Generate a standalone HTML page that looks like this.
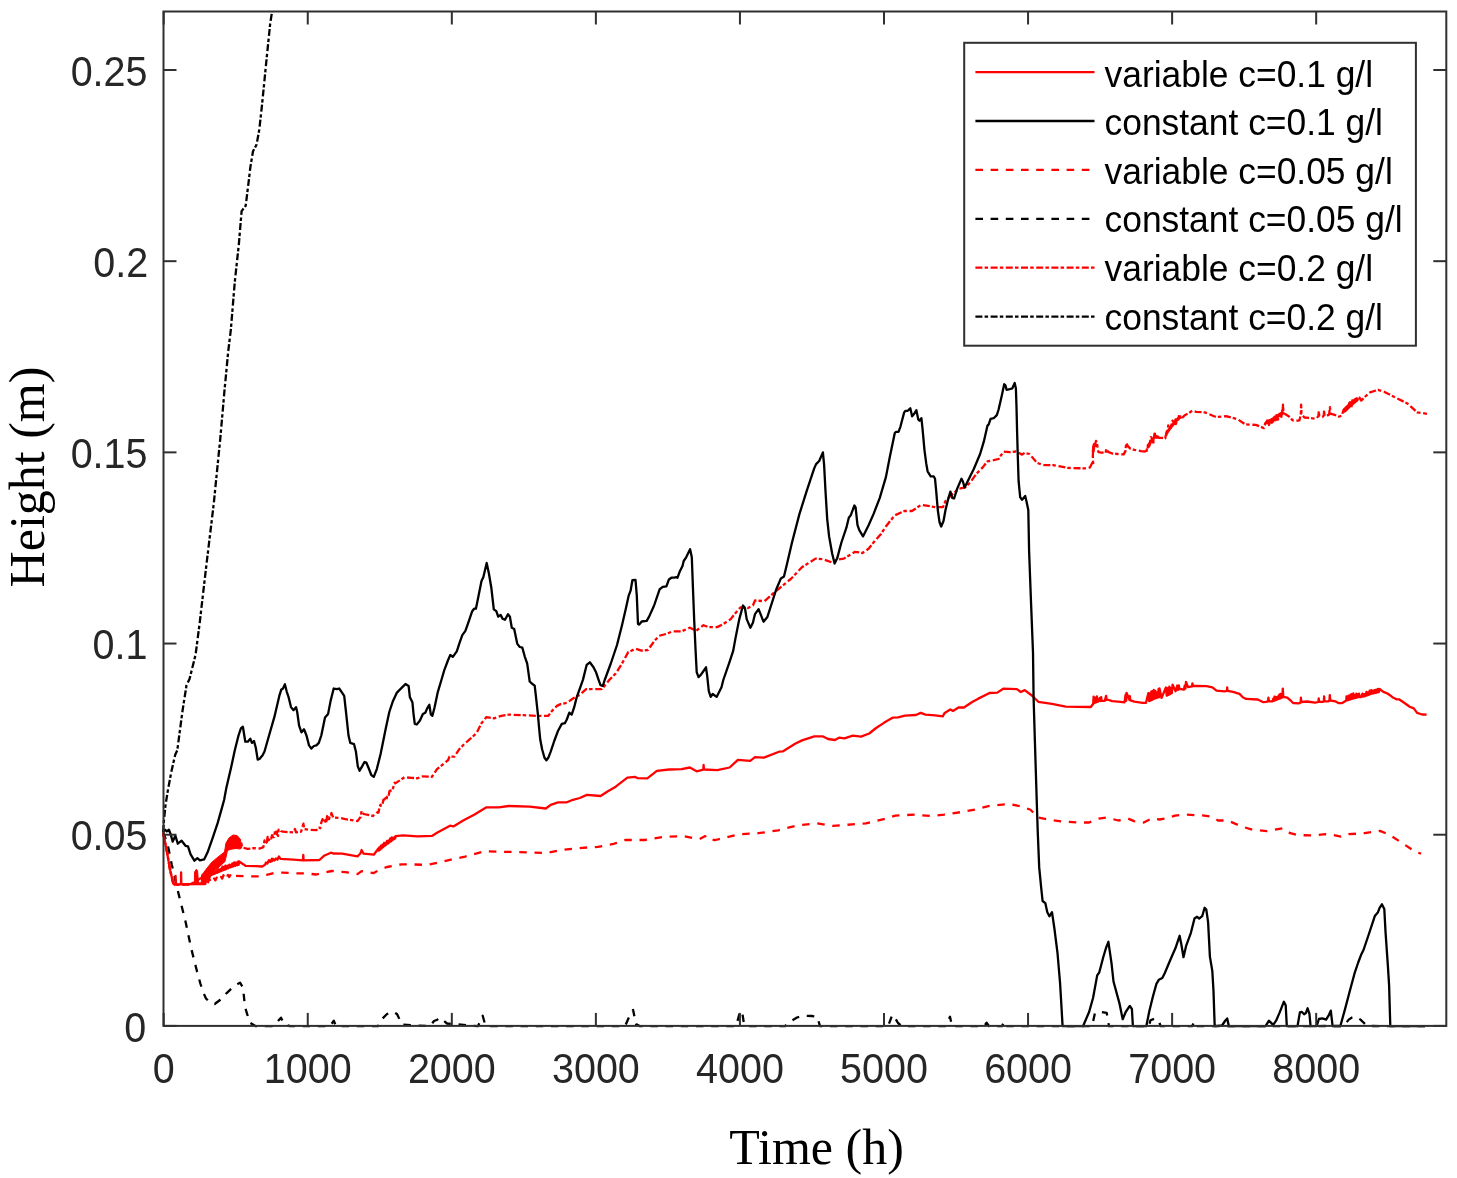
<!DOCTYPE html>
<html><head><meta charset="utf-8"><style>
html,body{margin:0;padding:0;background:#fff;}
body{width:1457px;height:1178px;overflow:hidden;}
svg{display:block;will-change:transform;}
.tk{font-family:"Liberation Sans",sans-serif;font-size:39.5px;fill:#262626;}
.lg{font-family:"Liberation Sans",sans-serif;font-size:35.4px;fill:#000;}
.lab{font-family:"Liberation Serif",serif;font-size:50px;fill:#000;}
</style></head><body>
<svg width="1457" height="1178" viewBox="0 0 1457 1178">
<path d="M163.2,832.0 L167.8,845.0 L171.7,864.4 L177.6,889.8 L185.4,921.0 L191.2,948.4 L197.1,971.8 L200.5,984.0 L203.5,993.0 L206.0,998.5 L209.5,1002.0 L214.7,1004.0 L220.0,1000.0 L226.4,993.3 L233.0,987.0 L240.0,982.6 L243.0,987.5 L245.0,1007.0 L249.8,1022.6 L255.7,1026.2 L272.0,1026.2 L278.0,1021.0 L281.0,1017.7 L284.0,1024.0 L290.0,1026.2 L330.0,1026.2 L333.8,1020.7 L336.0,1026.2 L378.0,1026.2 L382.0,1019.0 L387.0,1014.0 L392.4,1011.5 L397.0,1014.0 L402.0,1024.6 L430.0,1026.2 L434.0,1021.0 L437.3,1019.7 L439.8,1017.7 L444.0,1021.0 L447.0,1023.5 L478.0,1026.2 L482.7,1015.8 L485.0,1024.0 L487.0,1026.2 L625.0,1026.2 L630.0,1015.0 L633.1,1009.9 L636.0,1024.0 L640.0,1026.2 L736.0,1026.2 L740.0,1012.0 L742.0,1010.9 L744.0,1024.0 L748.0,1026.2 L785.0,1026.2 L790.0,1021.6 L797.0,1017.5 L803.5,1015.8 L812.0,1016.0 L817.2,1016.7 L820.0,1026.2 L888.0,1026.2 L892.3,1014.8 L895.0,1018.0 L898.0,1023.0 L902.0,1026.2 L945.0,1026.2 L950.0,1016.7 L952.0,1026.2 L984.0,1026.2 L986.6,1022.6 L989.0,1026.2 L1002.0,1026.2 L1004.2,1021.6 L1006.0,1026.2 L1092.0,1026.2 L1095.0,1012.9 L1101.0,1012.0 L1106.7,1012.9 L1109.0,1026.2 L1149.0,1026.2 L1150.5,1020.2 L1155.2,1018.4 L1158.8,1020.8 L1160.6,1026.0 L1192.0,1026.2 L1194.5,1021.4 L1196.5,1026.2 L1343.9,1026.0 L1348.7,1019.6 L1352.0,1017.5 L1355.8,1016.6 L1360.5,1019.6 L1364.0,1023.0 L1367.7,1026.0 L1425.0,1026.2" fill="none" stroke="#000" stroke-width="2.3" stroke-linejoin="round" stroke-linecap="butt" stroke-dasharray="7.5,7.7"/>
<path d="M163.2,832.0 L163.8,822.0 L165.5,805.0 L168.1,789.0 L171.5,771.0 L175.3,754.4 L177.3,750.3 L182.4,711.6 L186.5,685.2 L189.5,679.1 L195.6,654.6 L199.8,622.0 L205.8,570.0 L213.7,504.2 L220.3,438.4 L224.2,393.7 L228.2,351.6 L230.8,330.1 L234.8,281.7 L238.9,243.7 L241.6,211.1 L245.7,205.7 L248.4,183.9 L250.3,167.6 L253.0,151.3 L256.6,144.5 L259.3,129.6 L262.0,105.1 L264.7,77.9 L267.4,50.8 L270.2,23.6 L272.1,11.4" fill="none" stroke="#000" stroke-width="2.3" stroke-linejoin="round" stroke-linecap="butt" stroke-dasharray="7,2,3.5,2.7"/>
<path d="M163.2,833.0 L166.8,850.9 L170.2,870.5 L173.2,883.2 L174.9,884.8 L177.0,884.5 L204.0,883.5 L204.6,881.0 L205.8,883.0 L207.0,880.2 L208.2,882.2 L209.4,878.9 L210.6,881.5 L211.2,881.3 L211.8,878.9 L213.0,880.9 L214.2,878.5 L215.4,880.4 L216.6,877.6 L217.8,879.9 L218.0,879.9 L218.6,877.9 L219.8,879.4 L221.0,877.0 L222.2,878.6 L223.4,875.3 L224.6,877.9 L224.9,877.8 L225.5,875.4 L226.7,877.5 L227.9,874.9 L229.1,877.0 L230.3,875.2 L231.5,876.5 L232.7,874.2 L233.9,876.1 L235.2,875.8 L247.6,876.4 L259.1,876.4 L266.7,874.9 L274.4,873.0 L282.0,872.6 L295.0,873.3 L304.9,873.3 L316.4,874.5 L324.0,872.6 L331.7,871.0 L339.3,871.8 L345.3,872.1 L357.5,874.1 L361.6,871.1 L373.8,873.1 L378.9,870.0 L387.0,867.0 L401.3,864.4 L411.5,864.4 L426.8,864.9 L437.0,862.9 L450.0,859.8 L465.1,856.6 L484.7,851.2 L498.3,851.7 L527.6,852.3 L545.2,853.1 L562.8,849.8 L582.3,847.8 L597.9,846.9 L613.6,843.9 L625.3,840.0 L644.8,840.0 L664.3,836.7 L683.9,836.1 L693.6,838.1 L699.5,839.1 L705.3,836.1 L708.0,839.5 L715.6,840.0 L739.1,834.2 L758.6,833.2 L778.1,830.3 L797.6,825.4 L817.2,823.4 L832.8,825.8 L852.3,824.4 L866.0,823.4 L885.5,818.6 L895.3,815.6 L914.8,814.6 L930.4,816.0 L944.1,814.6 L963.6,811.7 L975.0,809.5 L989.5,805.9 L1009.1,803.9 L1022.7,806.8 L1030.5,809.8 L1038.3,817.6 L1048.1,819.5 L1061.8,821.5 L1077.4,822.5 L1089.1,822.5 L1098.9,818.6 L1106.7,817.6 L1118.4,820.5 L1128.2,818.6 L1134.0,821.1 L1143.8,822.5 L1151.6,818.6 L1159.4,819.5 L1165.3,818.6 L1175.0,815.6 L1184.8,814.6 L1202.4,815.4 L1212.1,816.6 L1218.0,820.5 L1227.8,820.5 L1241.4,826.4 L1251.2,829.3 L1259.0,830.3 L1266.8,831.2 L1282.4,828.3 L1290.3,833.2 L1298.1,835.1 L1313.7,835.5 L1325.4,834.2 L1333.2,835.1 L1341.0,836.7 L1348.8,834.2 L1364.5,833.2 L1380.1,830.9 L1389.9,835.1 L1403.5,843.9 L1415.2,851.7 L1421.1,853.7" fill="none" stroke="#ff0000" stroke-width="2.3" stroke-linejoin="round" stroke-linecap="butt" stroke-dasharray="7.5,7.7"/>
<path d="M163.2,833.0 L166.8,850.9 L170.2,870.5 L173.2,883.2 L174.9,884.8 L190.0,884.5 L204.1,876.4 L210.9,867.9 L219.4,859.4 L225.4,852.6 L227.1,844.1 L232.2,838.2 L236.4,836.5 L240.6,840.7 L242.3,847.4 L247.6,848.9 L253.4,848.1 L259.9,848.5 L262.9,847.4 L263.5,846.8 L264.5,840.4 L265.2,842.8 L265.7,843.2 L266.7,842.4 L267.7,836.8 L268.7,840.3 L269.7,838.0 L270.6,837.4 L271.1,838.5 L272.1,835.2 L273.1,837.3 L274.1,836.9 L275.1,830.4 L276.1,830.0 L277.1,834.3 L278.1,835.9 L278.2,832.1 L278.7,829.6 L279.7,830.3 L280.5,829.8 L281.0,831.0 L282.8,831.7 L293.5,832.5 L295.0,829.0 L296.0,832.3 L301.1,831.7 L303.4,823.7 L304.2,829.0 L308.8,829.8 L316.4,830.2 L318.5,827.7 L319.5,827.6 L320.2,828.3 L320.7,824.8 L321.7,821.3 L322.5,819.1 L323.0,820.4 L324.0,819.0 L325.0,820.6 L325.6,822.2 L326.1,823.7 L327.1,816.2 L328.1,819.1 L329.1,819.0 L330.1,814.1 L330.9,814.5 L331.4,813.0 L333.2,817.6 L340.1,818.0 L345.3,819.1 L357.5,821.1 L360.6,817.0 L361.6,810.9 L363.6,814.0 L372.8,816.0 L377.9,812.0 L378.5,812.6 L379.5,807.1 L380.5,804.8 L380.9,805.8 L381.4,804.7 L382.4,804.8 L383.4,799.7 L384.4,799.5 L385.4,798.1 L386.4,799.6 L387.0,796.7 L387.5,795.6 L388.5,796.6 L389.5,791.0 L390.5,790.5 L391.1,790.6 L391.6,790.6 L392.6,790.3 L393.6,785.9 L394.6,782.8 L395.2,783.4 L401.3,779.4 L404.4,777.3 L411.5,777.8 L417.6,778.3 L421.7,776.3 L431.9,776.8 L437.0,769.2 L442.0,765.1 L448.2,760.0 L449.4,756.6 L454.4,756.6 L459.3,749.2 L464.2,744.2 L470.4,738.7 L476.6,733.1 L481.5,723.2 L486.5,717.1 L493.9,718.3 L501.3,715.8 L508.7,714.6 L523.5,715.2 L535.9,715.8 L548.3,715.8 L552.0,710.9 L556.9,705.9 L560.6,704.1 L566.8,702.9 L573.0,698.5 L579.8,694.8 L586.2,689.1 L601.8,689.1 L609.6,679.6 L615.8,673.4 L622.0,663.5 L628.1,652.4 L635.5,648.7 L641.7,650.6 L647.9,650.0 L654.1,641.3 L659.0,635.8 L666.4,633.9 L672.6,631.4 L681.3,631.4 L689.9,627.7 L696.1,630.8 L703.5,625.2 L708.4,627.1 L717.1,627.1 L723.3,624.0 L730.7,619.1 L735.6,612.9 L740.6,607.3 L748.0,608.0 L752.9,605.5 L755.0,600.5 L764.4,601.2 L774.2,592.5 L790.8,579.0 L801.9,567.3 L815.5,558.6 L822.9,559.2 L831.5,562.3 L836.5,559.8 L843.9,558.6 L855.0,551.8 L862.4,553.0 L868.6,548.7 L873.5,542.5 L881.0,533.9 L885.9,526.5 L894.6,515.4 L904.4,511.0 L911.9,511.0 L921.1,504.9 L935.6,507.1 L943.0,507.1 L945.5,501.0 L951.7,494.8 L959.1,488.6 L965.2,487.4 L970.2,482.4 L976.4,473.8 L982.5,467.6 L987.5,461.4 L993.7,460.2 L998.6,459.0 L1003.5,451.5 L1009.7,452.2 L1015.9,451.5 L1022.1,454.6 L1024.6,452.8 L1029.5,454.0 L1036.9,462.7 L1043.1,465.1 L1053.0,465.1 L1060.0,466.4 L1067.6,467.9 L1085.0,468.4 L1089.9,467.5 L1092.3,462.8 L1093.0,464.6 L1093.2,464.3 L1092.8,456.0 L1093.2,449.4 L1093.5,445.3 L1094.1,443.7 L1094.4,445.2 L1095.1,444.6 L1095.7,442.0 L1096.0,440.9 L1096.8,443.2 L1097.4,446.1 L1097.8,450.1 L1098.2,451.1 L1098.5,452.1 L1101.5,452.7 L1105.6,452.7 L1106.4,448.6 L1108.1,451.9 L1112.2,453.5 L1118.0,454.0 L1123.7,454.4 L1125.4,451.1 L1126.2,442.8 L1127.8,446.1 L1130.3,448.6 L1134.4,449.8 L1141.0,451.1 L1146.0,451.5 L1146.3,452.5 L1147.0,448.1 L1147.6,447.8 L1147.9,444.9 L1148.6,444.5 L1149.3,446.1 L1150.0,441.5 L1150.1,442.8 L1150.4,439.4 L1150.9,437.1 L1151.2,437.3 L1152.0,438.7 L1152.7,440.0 L1153.4,444.4 L1153.4,442.0 L1153.8,438.1 L1154.5,433.6 L1155.0,433.8 L1155.3,437.0 L1156.0,437.6 L1156.7,436.2 L1157.0,439.4 L1157.8,436.5 L1159.1,437.9 L1162.4,437.9 L1165.3,438.4 L1165.7,435.4 L1166.0,437.1 L1166.8,431.2 L1167.4,431.3 L1167.8,430.2 L1168.2,425.5 L1168.5,427.9 L1169.2,427.5 L1170.0,427.4 L1170.7,426.7 L1170.7,428.0 L1171.0,426.1 L1171.8,423.5 L1172.5,420.6 L1173.1,421.4 L1173.4,422.0 L1174.1,420.5 L1174.8,423.8 L1175.5,419.5 L1175.6,422.2 L1175.9,424.0 L1176.6,421.4 L1177.3,421.5 L1178.0,420.1 L1178.8,418.8 L1178.9,416.1 L1179.2,417.0 L1180.0,414.4 L1180.7,419.5 L1181.4,418.9 L1184.7,415.2 L1188.8,413.2 L1192.1,410.7 L1196.2,411.9 L1205.0,412.4 L1216.0,417.1 L1225.8,416.2 L1237.5,419.1 L1245.3,424.4 L1255.8,424.9 L1259.1,426.1 L1264.0,428.2 L1265.3,423.1 L1266.0,422.5 L1266.5,423.0 L1266.8,422.3 L1267.3,418.7 L1267.6,420.8 L1268.0,422.5 L1268.3,421.7 L1269.0,425.0 L1269.8,422.3 L1270.5,420.0 L1271.2,419.0 L1271.9,422.8 L1272.6,419.8 L1273.3,421.5 L1274.0,418.1 L1274.7,416.6 L1274.7,418.7 L1275.0,418.7 L1275.8,420.2 L1276.5,415.2 L1277.2,419.1 L1277.9,419.6 L1278.6,418.3 L1279.3,417.9 L1280.0,411.8 L1280.7,415.6 L1281.4,416.8 L1282.1,410.6 L1282.5,413.5 L1283.0,404.7 L1283.5,413.0 L1284.6,413.8 L1288.7,416.2 L1292.8,420.4 L1296.1,420.8 L1299.4,420.4 L1300.8,414.5 L1301.1,404.7 L1301.5,414.0 L1302.7,415.4 L1304.4,417.5 L1311.0,418.1 L1315.9,418.7 L1318.4,416.2 L1318.8,411.3 L1319.2,416.0 L1320.0,416.2 L1322.5,417.1 L1323.8,415.5 L1324.1,410.5 L1324.5,415.8 L1325.8,416.2 L1329.1,414.6 L1329.9,407.2 L1330.7,413.8 L1334.0,414.6 L1339.0,416.7 L1342.3,415.4 L1342.6,412.9 L1343.3,411.1 L1343.9,411.3 L1344.2,411.1 L1345.0,409.7 L1345.7,409.4 L1346.4,410.8 L1347.1,404.7 L1347.8,404.3 L1348.5,404.1 L1349.2,403.4 L1349.9,402.3 L1350.5,404.7 L1350.8,407.8 L1351.5,406.4 L1352.2,400.5 L1353.0,402.9 L1353.7,401.1 L1354.4,400.5 L1355.1,400.3 L1355.8,401.8 L1356.5,400.9 L1357.1,399.8 L1357.4,398.9 L1358.1,397.8 L1358.8,398.9 L1359.5,397.6 L1361.2,400.6 L1365.3,396.5 L1370.0,392.4 L1378.1,389.8 L1384.0,391.7 L1395.7,397.6 L1407.4,403.5 L1417.2,412.3 L1427.0,413.8" fill="none" stroke="#ff0000" stroke-width="2.3" stroke-linejoin="round" stroke-linecap="butt" stroke-dasharray="7,2,3.5,2.7"/>
<path d="M163.2,833.0 L166.8,850.9 L170.2,870.5 L173.2,883.2 L174.9,884.8 L175.5,884.5 L175.6,876.0 L175.8,884.5 L181.0,884.3 L181.1,872.5 L181.3,884.3 L194.0,884.0 L204.3,884.0 L204.8,880.9 L205.8,882.1 L206.8,877.7 L207.8,879.5 L208.8,875.5 L209.8,876.9 L210.8,872.4 L211.2,875.1 L211.7,871.7 L212.7,874.5 L213.7,872.0 L214.7,873.7 L215.7,871.3 L216.7,872.9 L217.7,868.8 L218.0,872.4 L218.5,869.7 L219.5,871.8 L220.5,868.9 L221.5,871.0 L222.5,866.6 L223.5,870.2 L224.5,866.8 L224.9,869.6 L225.4,865.7 L226.4,869.0 L227.4,865.7 L228.4,868.2 L229.4,864.6 L230.4,867.4 L231.4,864.8 L231.8,866.9 L232.3,863.5 L233.3,866.4 L234.3,862.4 L235.3,865.8 L236.3,862.5 L237.3,865.2 L238.3,861.4 L238.6,864.8 L239.1,861.5 L245.5,865.8 L255.8,866.2 L262.2,866.5 L265.2,864.6 L265.9,862.6 L267.4,863.5 L268.9,860.1 L270.4,861.9 L271.9,858.8 L272.1,861.1 L272.9,858.9 L274.4,860.5 L275.9,858.5 L277.4,859.7 L278.9,856.5 L280.5,858.8 L293.5,859.6 L303.0,860.4 L303.3,855.0 L303.6,860.4 L319.4,860.0 L324.0,855.8 L330.9,852.7 L333.2,853.5 L342.2,853.7 L357.5,856.3 L360.4,853.5 L361.6,850.0 L363.6,853.7 L373.8,854.7 L378.4,848.5 L378.9,850.7 L379.3,847.4 L380.1,849.7 L380.9,845.7 L381.7,848.4 L382.5,844.7 L383.3,847.0 L384.1,843.0 L384.9,845.7 L385.0,845.6 L385.4,842.9 L386.2,844.8 L387.0,841.0 L387.8,843.6 L388.6,840.5 L389.4,842.5 L390.2,838.5 L391.0,841.4 L391.8,837.5 L392.6,840.2 L393.4,837.8 L394.2,839.1 L395.0,836.6 L395.2,838.4 L395.6,836.1 L403.3,835.4 L417.6,836.4 L431.9,835.9 L437.0,832.8 L450.0,825.7 L453.4,826.4 L463.2,820.5 L474.1,814.7 L486.5,807.3 L498.8,807.3 L508.7,806.0 L529.7,806.6 L545.8,808.5 L550.7,804.8 L558.1,802.3 L566.8,802.3 L573.0,799.8 L579.8,798.0 L586.9,794.9 L600.6,796.0 L607.5,791.5 L615.7,786.7 L627.4,777.7 L634.9,776.8 L637.7,778.2 L647.3,778.4 L656.9,770.9 L669.2,769.5 L681.6,769.1 L689.8,767.5 L696.7,771.3 L703.3,769.6 L703.6,765.0 L704.0,769.5 L717.3,770.2 L729.6,767.5 L737.9,759.9 L750.2,760.9 L755.0,757.2 L763.9,757.6 L779.0,751.7 L782.7,751.4 L795.1,743.8 L802.0,740.4 L814.3,736.3 L822.6,736.3 L828.0,739.0 L834.9,740.0 L839.0,737.7 L844.5,738.3 L852.8,735.6 L861.0,736.6 L869.2,733.5 L876.1,728.0 L884.3,722.6 L892.6,717.7 L898.1,717.3 L904.9,715.7 L915.9,715.0 L920.7,712.9 L925.5,714.6 L935.1,715.4 L942.7,716.4 L944.7,712.9 L950.2,709.5 L953.0,710.9 L958.5,707.5 L963.9,707.5 L972.2,702.0 L977.8,698.9 L989.5,693.0 L997.3,692.6 L1003.2,688.7 L1016.9,689.1 L1020.8,692.0 L1024.7,690.1 L1032.5,696.0 L1038.3,701.8 L1052.0,703.8 L1065.7,706.7 L1090.8,707.0 L1093.2,703.7 L1093.6,696.6 L1094.4,703.1 L1094.9,702.8 L1095.3,697.6 L1096.1,702.4 L1096.9,696.4 L1097.7,701.8 L1098.2,701.6 L1099.8,697.9 L1100.5,701.0 L1101.2,697.1 L1101.5,700.8 L1104.8,700.8 L1106.1,695.9 L1106.7,699.8 L1107.2,699.5 L1112.2,701.2 L1118.0,701.6 L1124.5,702.4 L1125.6,694.6 L1126.2,700.8 L1126.2,700.8 L1126.5,692.8 L1129.5,700.0 L1129.8,696.1 L1130.4,700.3 L1134.4,701.6 L1142.7,702.8 L1146.0,702.8 L1148.4,693.1 L1149.2,701.2 L1149.3,701.2 L1149.7,693.4 L1150.5,700.6 L1151.3,691.5 L1152.1,699.8 L1152.9,691.0 L1153.4,699.1 L1153.8,690.0 L1154.6,698.7 L1155.4,690.9 L1156.2,698.1 L1157.0,692.6 L1157.8,697.6 L1158.6,688.9 L1159.1,697.1 L1159.5,688.4 L1161.6,697.9 L1165.9,687.5 L1166.7,695.7 L1167.4,695.4 L1167.8,688.1 L1168.6,694.8 L1169.4,686.7 L1170.2,694.0 L1171.0,688.1 L1171.8,693.2 L1172.6,684.6 L1175.6,691.3 L1177.3,685.5 L1178.0,689.8 L1178.8,685.5 L1179.5,689.0 L1179.7,688.8 L1183.8,689.7 L1184.8,685.4 L1185.4,688.7 L1186.0,681.9 L1188.0,687.2 L1192.1,686.4 L1192.4,683.4 L1193.0,686.2 L1194.6,685.9 L1206.6,686.1 L1212.4,687.4 L1216.5,690.7 L1224.7,691.3 L1227.0,690.8 L1227.2,687.4 L1227.5,690.9 L1233.0,691.9 L1239.5,693.9 L1242.8,697.2 L1246.1,698.9 L1257.7,699.5 L1263.4,702.2 L1265.9,701.8 L1268.0,701.4 L1268.4,697.7 L1268.9,701.4 L1272.5,701.4 L1273.3,698.6 L1273.9,700.8 L1274.5,696.6 L1275.1,700.4 L1275.7,697.0 L1276.3,699.9 L1276.9,697.1 L1277.5,699.4 L1278.1,696.3 L1278.7,698.9 L1279.3,694.7 L1279.9,698.5 L1280.5,694.0 L1281.1,698.0 L1281.7,695.4 L1282.3,697.5 L1282.8,688.6 L1283.3,696.8 L1287.3,697.7 L1290.6,700.5 L1293.1,703.0 L1298.8,703.4 L1300.7,702.5 L1300.9,697.7 L1301.3,702.0 L1307.1,701.5 L1315.0,702.6 L1317.5,702.2 L1318.4,701.8 L1318.7,698.5 L1319.2,701.8 L1322.8,701.8 L1323.8,701.5 L1324.1,696.4 L1324.5,701.4 L1328.2,701.4 L1329.4,700.8 L1329.8,695.2 L1330.3,700.5 L1335.6,701.4 L1338.9,703.2 L1342.2,703.0 L1346.3,700.5 L1346.5,696.4 L1347.0,700.3 L1347.5,697.5 L1348.0,700.0 L1348.5,695.6 L1349.0,699.7 L1349.5,696.3 L1350.0,699.5 L1350.5,694.6 L1351.0,699.2 L1351.5,694.1 L1352.0,698.9 L1352.1,698.9 L1352.3,695.1 L1352.8,698.7 L1353.3,693.5 L1353.8,698.4 L1354.3,695.0 L1354.8,698.1 L1355.3,695.2 L1355.8,697.8 L1356.3,693.6 L1356.8,697.5 L1357.3,694.8 L1357.8,697.2 L1358.0,694.2 L1358.5,697.2 L1359.0,693.7 L1359.5,697.2 L1361.1,697.2 L1362.4,693.7 L1363.2,696.7 L1364.0,694.2 L1364.4,696.4 L1364.8,694.2 L1365.6,696.0 L1366.4,691.9 L1367.2,695.4 L1368.0,692.5 L1368.8,694.8 L1369.6,690.6 L1370.4,694.2 L1371.0,694.0 L1371.4,690.1 L1372.2,693.7 L1373.0,690.7 L1373.8,693.3 L1374.6,690.2 L1375.4,692.9 L1376.2,689.6 L1377.0,692.5 L1377.6,692.3 L1378.0,689.0 L1378.8,692.2 L1379.6,689.0 L1383.4,691.9 L1387.5,693.5 L1390.0,695.2 L1392.4,697.2 L1396.5,699.3 L1399.0,699.3 L1405.6,703.8 L1409.7,706.7 L1413.8,708.4 L1417.1,712.9 L1422.1,714.5 L1426.6,714.7" fill="none" stroke="#ff0000" stroke-width="2.3" stroke-linejoin="round" stroke-linecap="butt"/>
<path d="M163.0,831.8 L165.1,829.7 L166.8,831.4 L168.9,829.7 L170.6,834.0 L172.7,841.6 L175.3,835.7 L177.8,843.7 L181.6,840.7 L185.5,845.8 L188.0,846.3 L190.6,854.3 L194.4,860.7 L197.4,858.1 L199.9,860.3 L204.1,859.4 L207.5,852.6 L212.6,838.2 L217.7,822.9 L222.0,807.6 L224.1,800.0 L226.2,788.6 L231.1,767.6 L234.8,750.3 L238.5,735.5 L241.0,728.1 L242.9,726.8 L244.1,734.2 L245.3,741.7 L247.8,741.7 L250.3,738.6 L251.9,742.9 L254.0,741.0 L255.8,747.8 L257.7,759.6 L259.5,759.0 L262.6,755.2 L264.5,751.5 L269.4,734.2 L274.4,716.9 L279.3,695.9 L281.2,689.8 L283.0,688.5 L284.9,684.2 L286.7,691.6 L288.6,697.2 L291.0,707.1 L293.5,710.2 L296.0,707.1 L297.2,712.0 L299.1,725.6 L301.5,732.4 L304.0,729.3 L306.5,735.5 L309.0,745.4 L311.4,748.5 L313.9,746.0 L316.4,745.4 L318.8,742.9 L321.3,735.5 L325.0,717.6 L328.1,713.9 L330.6,700.9 L333.7,688.5 L336.8,689.2 L339.2,688.5 L341.7,692.2 L344.2,695.9 L346.0,712.0 L348.5,735.5 L350.3,742.9 L354.0,744.1 L355.9,751.5 L357.8,766.4 L359.6,770.7 L362.1,766.4 L364.5,762.0 L366.4,762.7 L368.9,768.8 L371.3,775.0 L373.8,776.9 L376.9,768.8 L380.6,754.0 L385.6,729.3 L389.3,712.0 L393.0,700.9 L396.7,692.9 L399.1,690.4 L402.4,687.1 L405.5,684.0 L408.6,685.9 L409.9,697.3 L412.4,702.2 L413.6,714.6 L414.8,723.9 L416.7,724.5 L419.8,720.8 L422.9,714.0 L425.3,712.7 L427.2,708.4 L429.3,704.7 L430.9,714.6 L432.4,715.8 L434.6,707.2 L437.7,692.4 L441.4,680.0 L444.4,669.8 L448.1,660.0 L450.3,655.0 L452.8,656.9 L456.8,651.3 L459.2,643.9 L462.3,635.2 L465.4,630.9 L469.1,620.4 L472.2,611.2 L474.1,608.7 L475.9,608.7 L477.8,599.4 L481.5,580.9 L483.3,577.2 L486.7,563.0 L488.9,573.5 L491.4,588.3 L493.8,609.3 L496.3,611.2 L498.2,616.7 L500.6,614.9 L502.5,618.6 L505.0,619.8 L508.0,614.2 L509.9,616.7 L511.8,627.8 L514.2,629.1 L517.3,643.9 L519.8,647.0 L522.3,647.6 L524.7,656.3 L527.2,663.7 L529.7,681.5 L532.8,684.3 L534.7,685.6 L535.9,696.1 L537.8,713.4 L539.0,726.9 L540.2,739.3 L542.1,749.2 L544.5,757.8 L546.4,760.3 L548.3,757.8 L550.7,751.7 L554.4,740.5 L558.1,730.7 L561.8,723.9 L564.9,723.2 L566.8,719.5 L569.3,712.7 L571.7,714.6 L574.2,707.2 L576.7,697.3 L579.8,688.6 L583.0,679.6 L586.7,664.8 L589.8,662.3 L593.5,667.3 L596.0,672.2 L598.5,679.6 L600.5,685.2 L602.8,686.0 L604.7,680.0 L610.8,663.5 L617.0,645.0 L622.0,625.2 L625.7,609.2 L628.7,595.6 L630.6,590.7 L632.4,580.2 L635.5,579.8 L636.8,595.6 L638.0,624.0 L639.2,624.6 L641.7,621.5 L646.7,620.9 L649.1,616.6 L654.1,605.5 L659.6,589.4 L662.7,586.9 L666.4,586.3 L668.9,579.5 L671.4,577.7 L674.5,577.7 L676.3,577.1 L677.5,577.7 L680.0,570.9 L682.5,566.0 L683.7,561.0 L686.2,557.3 L688.0,553.6 L690.1,549.3 L691.8,557.3 L693.0,589.4 L694.2,620.3 L695.5,648.7 L696.7,672.2 L698.5,677.1 L701.0,674.7 L703.5,671.0 L706.0,667.3 L707.2,675.9 L708.8,691.1 L710.7,696.9 L712.7,694.0 L716.6,696.9 L721.5,687.2 L723.3,680.0 L729.4,662.3 L733.1,651.2 L735.6,637.6 L739.3,619.1 L743.0,605.5 L744.9,608.0 L746.7,619.1 L750.4,627.7 L752.9,622.8 L755.0,614.1 L758.6,609.1 L763.5,621.7 L767.4,616.9 L776.2,589.5 L780.9,578.4 L784.0,576.5 L787.1,563.5 L792.0,542.5 L799.4,514.1 L806.8,490.7 L814.2,468.4 L816.1,464.1 L819.2,461.0 L822.9,452.4 L824.1,464.7 L825.4,489.4 L827.2,519.1 L829.1,536.4 L832.2,553.7 L834.6,563.5 L837.1,558.6 L841.4,542.5 L846.4,527.7 L848.8,517.8 L850.7,515.4 L854.4,505.5 L855.6,507.3 L857.5,525.2 L859.3,530.2 L863.0,536.4 L868.6,525.2 L873.5,514.1 L879.7,498.1 L885.9,477.1 L889.9,456.5 L894.8,433.0 L896.1,431.8 L898.5,431.8 L900.4,426.8 L904.1,412.6 L905.3,410.8 L907.8,410.8 L910.3,408.3 L912.1,416.3 L914.6,413.2 L916.4,410.2 L918.3,419.4 L919.5,420.7 L921.4,418.2 L922.6,429.3 L924.5,450.3 L926.3,463.9 L927.6,471.3 L930.7,476.3 L933.7,476.3 L935.0,478.7 L936.2,491.1 L937.8,510.0 L939.5,522.0 L941.2,526.5 L943.5,521.0 L945.5,510.0 L948.0,499.7 L950.4,491.7 L952.3,497.9 L954.1,498.5 L957.2,488.6 L961.5,478.7 L962.8,481.2 L964.6,487.4 L967.7,481.2 L973.9,468.8 L980.1,454.0 L983.8,441.7 L987.5,425.6 L988.7,424.4 L990.6,418.8 L993.7,418.2 L996.8,415.1 L998.6,409.5 L1001.7,395.9 L1004.2,384.2 L1005.4,385.4 L1006.6,389.8 L1009.7,389.2 L1012.2,388.5 L1014.7,383.0 L1015.9,388.5 L1016.5,407.1 L1017.1,431.8 L1017.8,456.5 L1018.6,481.2 L1020.2,497.3 L1022.1,499.7 L1025.2,496.0 L1026.4,501.0 L1028.3,510.0 L1029.1,550.9 L1031.0,601.7 L1033.0,652.6 L1033.6,698.3 L1034.9,741.5 L1036.7,799.5 L1037.7,830.7 L1039.2,867.4 L1041.2,887.8 L1042.6,901.0 L1045.3,903.1 L1047.3,912.2 L1049.4,916.3 L1052.0,912.2 L1054.4,928.5 L1057.5,953.0 L1060.1,983.5 L1062.6,1026.2 L1083.0,1026.2 L1089.1,1012.0 L1093.1,997.8 L1097.2,975.4 L1099.3,972.3 L1103.3,957.0 L1106.0,948.0 L1108.4,941.8 L1111.5,963.2 L1113.5,981.5 L1119.6,1003.9 L1122.7,1019.2 L1125.7,1012.0 L1129.8,1005.9 L1131.9,1009.0 L1132.9,1026.2 L1146.3,1026.2 L1149.3,1011.3 L1152.8,997.0 L1156.4,983.9 L1158.8,979.8 L1162.3,978.0 L1164.7,973.2 L1170.7,959.0 L1175.4,948.3 L1179.6,935.8 L1181.4,944.7 L1183.5,957.2 L1186.1,945.9 L1190.9,932.8 L1194.5,918.5 L1196.8,916.8 L1199.2,918.5 L1202.2,916.2 L1204.6,907.8 L1206.3,909.6 L1208.1,922.1 L1209.9,956.6 L1212.3,970.9 L1213.5,991.1 L1214.7,1026.2 L1222.0,1025.5 L1225.0,1021.0 L1227.2,1018.4 L1228.9,1026.2 L1265.5,1026.2 L1269.0,1020.7 L1271.4,1023.1 L1273.2,1024.9 L1276.1,1020.7 L1279.7,1012.4 L1283.9,1001.7 L1285.7,1005.3 L1286.8,1026.2 L1297.5,1026.2 L1299.9,1012.4 L1301.7,1011.8 L1304.1,1014.2 L1305.9,1013.0 L1307.6,1008.3 L1309.4,1013.6 L1310.6,1026.2 L1316.6,1026.2 L1318.9,1019.0 L1322.5,1018.4 L1326.1,1019.6 L1329.0,1014.8 L1330.8,1010.6 L1332.6,1026.2 L1340.3,1026.2 L1345.1,1008.9 L1349.8,991.0 L1354.6,973.2 L1358.2,962.5 L1361.1,954.8 L1363.5,950.0 L1368.9,934.0 L1374.8,916.1 L1377.8,912.6 L1379.6,907.8 L1381.9,904.3 L1384.3,909.0 L1385.5,931.6 L1387.9,966.1 L1389.1,985.1 L1390.3,1026.2 L1425.0,1026.2" fill="none" stroke="#000" stroke-width="2.3" stroke-linejoin="round" stroke-linecap="butt"/>
<path d="M1266.8,422.5 L1274.7,418.2 L1282.3,413.0" fill="none" stroke="#ff0000" stroke-width="3.5" stroke-linejoin="round" stroke-linecap="round"/>
<path d="M1344.5,410.3 L1350.5,404.5 L1356.5,399.6" fill="none" stroke="#ff0000" stroke-width="4.5" stroke-linejoin="round" stroke-linecap="round"/>
<path d="M1093.2,451.0 L1094.2,444.5 L1096.5,445.5" fill="none" stroke="#ff0000" stroke-width="3" stroke-linejoin="round" stroke-linecap="round"/>
<path d="M1148.0,447.0 L1151.0,441.0 L1155.0,437.0" fill="none" stroke="#ff0000" stroke-width="3" stroke-linejoin="round" stroke-linecap="round"/>
<path d="M1166.5,433.5 L1170.5,427.5 L1176.0,421.0 L1179.0,417.5" fill="none" stroke="#ff0000" stroke-width="3" stroke-linejoin="round" stroke-linecap="round"/>
<polygon points="204.0,872.0 211.5,862.5 218.0,857.0 224.5,852.0 226.0,843.0 229.0,838.0 233.0,835.0 237.0,835.5 240.0,839.0 242.0,847.0 240.5,849.0 236.0,848.5 231.0,849.2 227.5,850.5 225.0,861.5 218.0,868.0 211.5,872.8 206.5,877.5 204.0,880.0" fill="#ff0000" stroke="#ff0000" stroke-width="1" stroke-linejoin="round"/>
<polygon points="194.3,884.5 194.6,872.0 196.3,869.2 197.6,871.0 198.6,884.5" fill="#ff0000" stroke="#ff0000" stroke-width="1" stroke-linejoin="round"/>
<polygon points="201.2,884.5 201.6,875.0 203.5,872.8 205.8,874.0 206.0,884.5" fill="#ff0000" stroke="#ff0000" stroke-width="1" stroke-linejoin="round"/>
<rect x="163.5" y="11.5" width="1282.80" height="1014.40" fill="none" stroke="#303030" stroke-width="2"/>
<line x1="163.70" y1="1025.9" x2="163.70" y2="1012.9000000000001" stroke="#303030" stroke-width="2"/>
<line x1="163.70" y1="11.5" x2="163.70" y2="24.5" stroke="#303030" stroke-width="2"/>
<text transform="translate(163.70,1082.6) scale(1,1.06)" text-anchor="middle" class="tk">0</text>
<line x1="307.76" y1="1025.9" x2="307.76" y2="1012.9000000000001" stroke="#303030" stroke-width="2"/>
<line x1="307.76" y1="11.5" x2="307.76" y2="24.5" stroke="#303030" stroke-width="2"/>
<text transform="translate(307.76,1082.6) scale(1,1.06)" text-anchor="middle" class="tk">1000</text>
<line x1="451.82" y1="1025.9" x2="451.82" y2="1012.9000000000001" stroke="#303030" stroke-width="2"/>
<line x1="451.82" y1="11.5" x2="451.82" y2="24.5" stroke="#303030" stroke-width="2"/>
<text transform="translate(451.82,1082.6) scale(1,1.06)" text-anchor="middle" class="tk">2000</text>
<line x1="595.88" y1="1025.9" x2="595.88" y2="1012.9000000000001" stroke="#303030" stroke-width="2"/>
<line x1="595.88" y1="11.5" x2="595.88" y2="24.5" stroke="#303030" stroke-width="2"/>
<text transform="translate(595.88,1082.6) scale(1,1.06)" text-anchor="middle" class="tk">3000</text>
<line x1="739.94" y1="1025.9" x2="739.94" y2="1012.9000000000001" stroke="#303030" stroke-width="2"/>
<line x1="739.94" y1="11.5" x2="739.94" y2="24.5" stroke="#303030" stroke-width="2"/>
<text transform="translate(739.94,1082.6) scale(1,1.06)" text-anchor="middle" class="tk">4000</text>
<line x1="884.00" y1="1025.9" x2="884.00" y2="1012.9000000000001" stroke="#303030" stroke-width="2"/>
<line x1="884.00" y1="11.5" x2="884.00" y2="24.5" stroke="#303030" stroke-width="2"/>
<text transform="translate(884.00,1082.6) scale(1,1.06)" text-anchor="middle" class="tk">5000</text>
<line x1="1028.06" y1="1025.9" x2="1028.06" y2="1012.9000000000001" stroke="#303030" stroke-width="2"/>
<line x1="1028.06" y1="11.5" x2="1028.06" y2="24.5" stroke="#303030" stroke-width="2"/>
<text transform="translate(1028.06,1082.6) scale(1,1.06)" text-anchor="middle" class="tk">6000</text>
<line x1="1172.12" y1="1025.9" x2="1172.12" y2="1012.9000000000001" stroke="#303030" stroke-width="2"/>
<line x1="1172.12" y1="11.5" x2="1172.12" y2="24.5" stroke="#303030" stroke-width="2"/>
<text transform="translate(1172.12,1082.6) scale(1,1.06)" text-anchor="middle" class="tk">7000</text>
<line x1="1316.18" y1="1025.9" x2="1316.18" y2="1012.9000000000001" stroke="#303030" stroke-width="2"/>
<line x1="1316.18" y1="11.5" x2="1316.18" y2="24.5" stroke="#303030" stroke-width="2"/>
<text transform="translate(1316.18,1082.6) scale(1,1.06)" text-anchor="middle" class="tk">8000</text>
<line x1="163.5" y1="1025.90" x2="176.5" y2="1025.90" stroke="#303030" stroke-width="2"/>
<line x1="1446.3" y1="1025.90" x2="1433.3" y2="1025.90" stroke="#303030" stroke-width="2"/>
<text transform="translate(146.3,1041.50) scale(1,1.06)" text-anchor="end" class="tk">0</text>
<line x1="163.5" y1="834.72" x2="176.5" y2="834.72" stroke="#303030" stroke-width="2"/>
<line x1="1446.3" y1="834.72" x2="1433.3" y2="834.72" stroke="#303030" stroke-width="2"/>
<text transform="translate(147.5,850.32) scale(1,1.06)" text-anchor="end" class="tk">0.05</text>
<line x1="163.5" y1="643.54" x2="176.5" y2="643.54" stroke="#303030" stroke-width="2"/>
<line x1="1446.3" y1="643.54" x2="1433.3" y2="643.54" stroke="#303030" stroke-width="2"/>
<text transform="translate(147.5,659.14) scale(1,1.06)" text-anchor="end" class="tk">0.1</text>
<line x1="163.5" y1="452.36" x2="176.5" y2="452.36" stroke="#303030" stroke-width="2"/>
<line x1="1446.3" y1="452.36" x2="1433.3" y2="452.36" stroke="#303030" stroke-width="2"/>
<text transform="translate(147.5,467.96) scale(1,1.06)" text-anchor="end" class="tk">0.15</text>
<line x1="163.5" y1="261.18" x2="176.5" y2="261.18" stroke="#303030" stroke-width="2"/>
<line x1="1446.3" y1="261.18" x2="1433.3" y2="261.18" stroke="#303030" stroke-width="2"/>
<text transform="translate(148.2,276.78) scale(1,1.06)" text-anchor="end" class="tk">0.2</text>
<line x1="163.5" y1="70.00" x2="176.5" y2="70.00" stroke="#303030" stroke-width="2"/>
<line x1="1446.3" y1="70.00" x2="1433.3" y2="70.00" stroke="#303030" stroke-width="2"/>
<text transform="translate(147.5,85.60) scale(1,1.06)" text-anchor="end" class="tk">0.25</text>
<text x="816.5" y="1164.3" text-anchor="middle" class="lab">Time (h)</text>
<text transform="translate(43.5,477) rotate(-90)" x="0" y="0" text-anchor="middle" class="lab">Height (m)</text>
<rect x="964.2" y="42.8" width="451.70000000000005" height="302.9" fill="#fff" stroke="#303030" stroke-width="2"/>
<line x1="975.4" y1="72.10" x2="1094.5" y2="72.10" stroke="#ff0000" stroke-width="2.3"/>
<text transform="translate(1104.5,86.50) scale(1,1.02)" class="lg">variable c=0.1 g/l</text>
<line x1="975.4" y1="121.00" x2="1094.5" y2="121.00" stroke="#000" stroke-width="2.3"/>
<text transform="translate(1104.5,135.16) scale(1,1.02)" class="lg">constant c=0.1 g/l</text>
<line x1="975.4" y1="169.90" x2="1094.5" y2="169.90" stroke="#ff0000" stroke-width="2.3" stroke-dasharray="7.6,7.6"/>
<text transform="translate(1104.5,183.82) scale(1,1.02)" class="lg">variable c=0.05 g/l</text>
<line x1="975.4" y1="218.80" x2="1094.5" y2="218.80" stroke="#000" stroke-width="2.3" stroke-dasharray="7.6,7.6"/>
<text transform="translate(1104.5,232.48) scale(1,1.02)" class="lg">constant c=0.05 g/l</text>
<line x1="975.4" y1="267.70" x2="1094.5" y2="267.70" stroke="#ff0000" stroke-width="2.3" stroke-dasharray="7,2.2,3.5,2.5"/>
<text transform="translate(1104.5,281.14) scale(1,1.02)" class="lg">variable c=0.2 g/l</text>
<line x1="975.4" y1="316.60" x2="1094.5" y2="316.60" stroke="#000" stroke-width="2.3" stroke-dasharray="7,2.2,3.5,2.5"/>
<text transform="translate(1104.5,329.80) scale(1,1.02)" class="lg">constant c=0.2 g/l</text>
</svg>
</body></html>
